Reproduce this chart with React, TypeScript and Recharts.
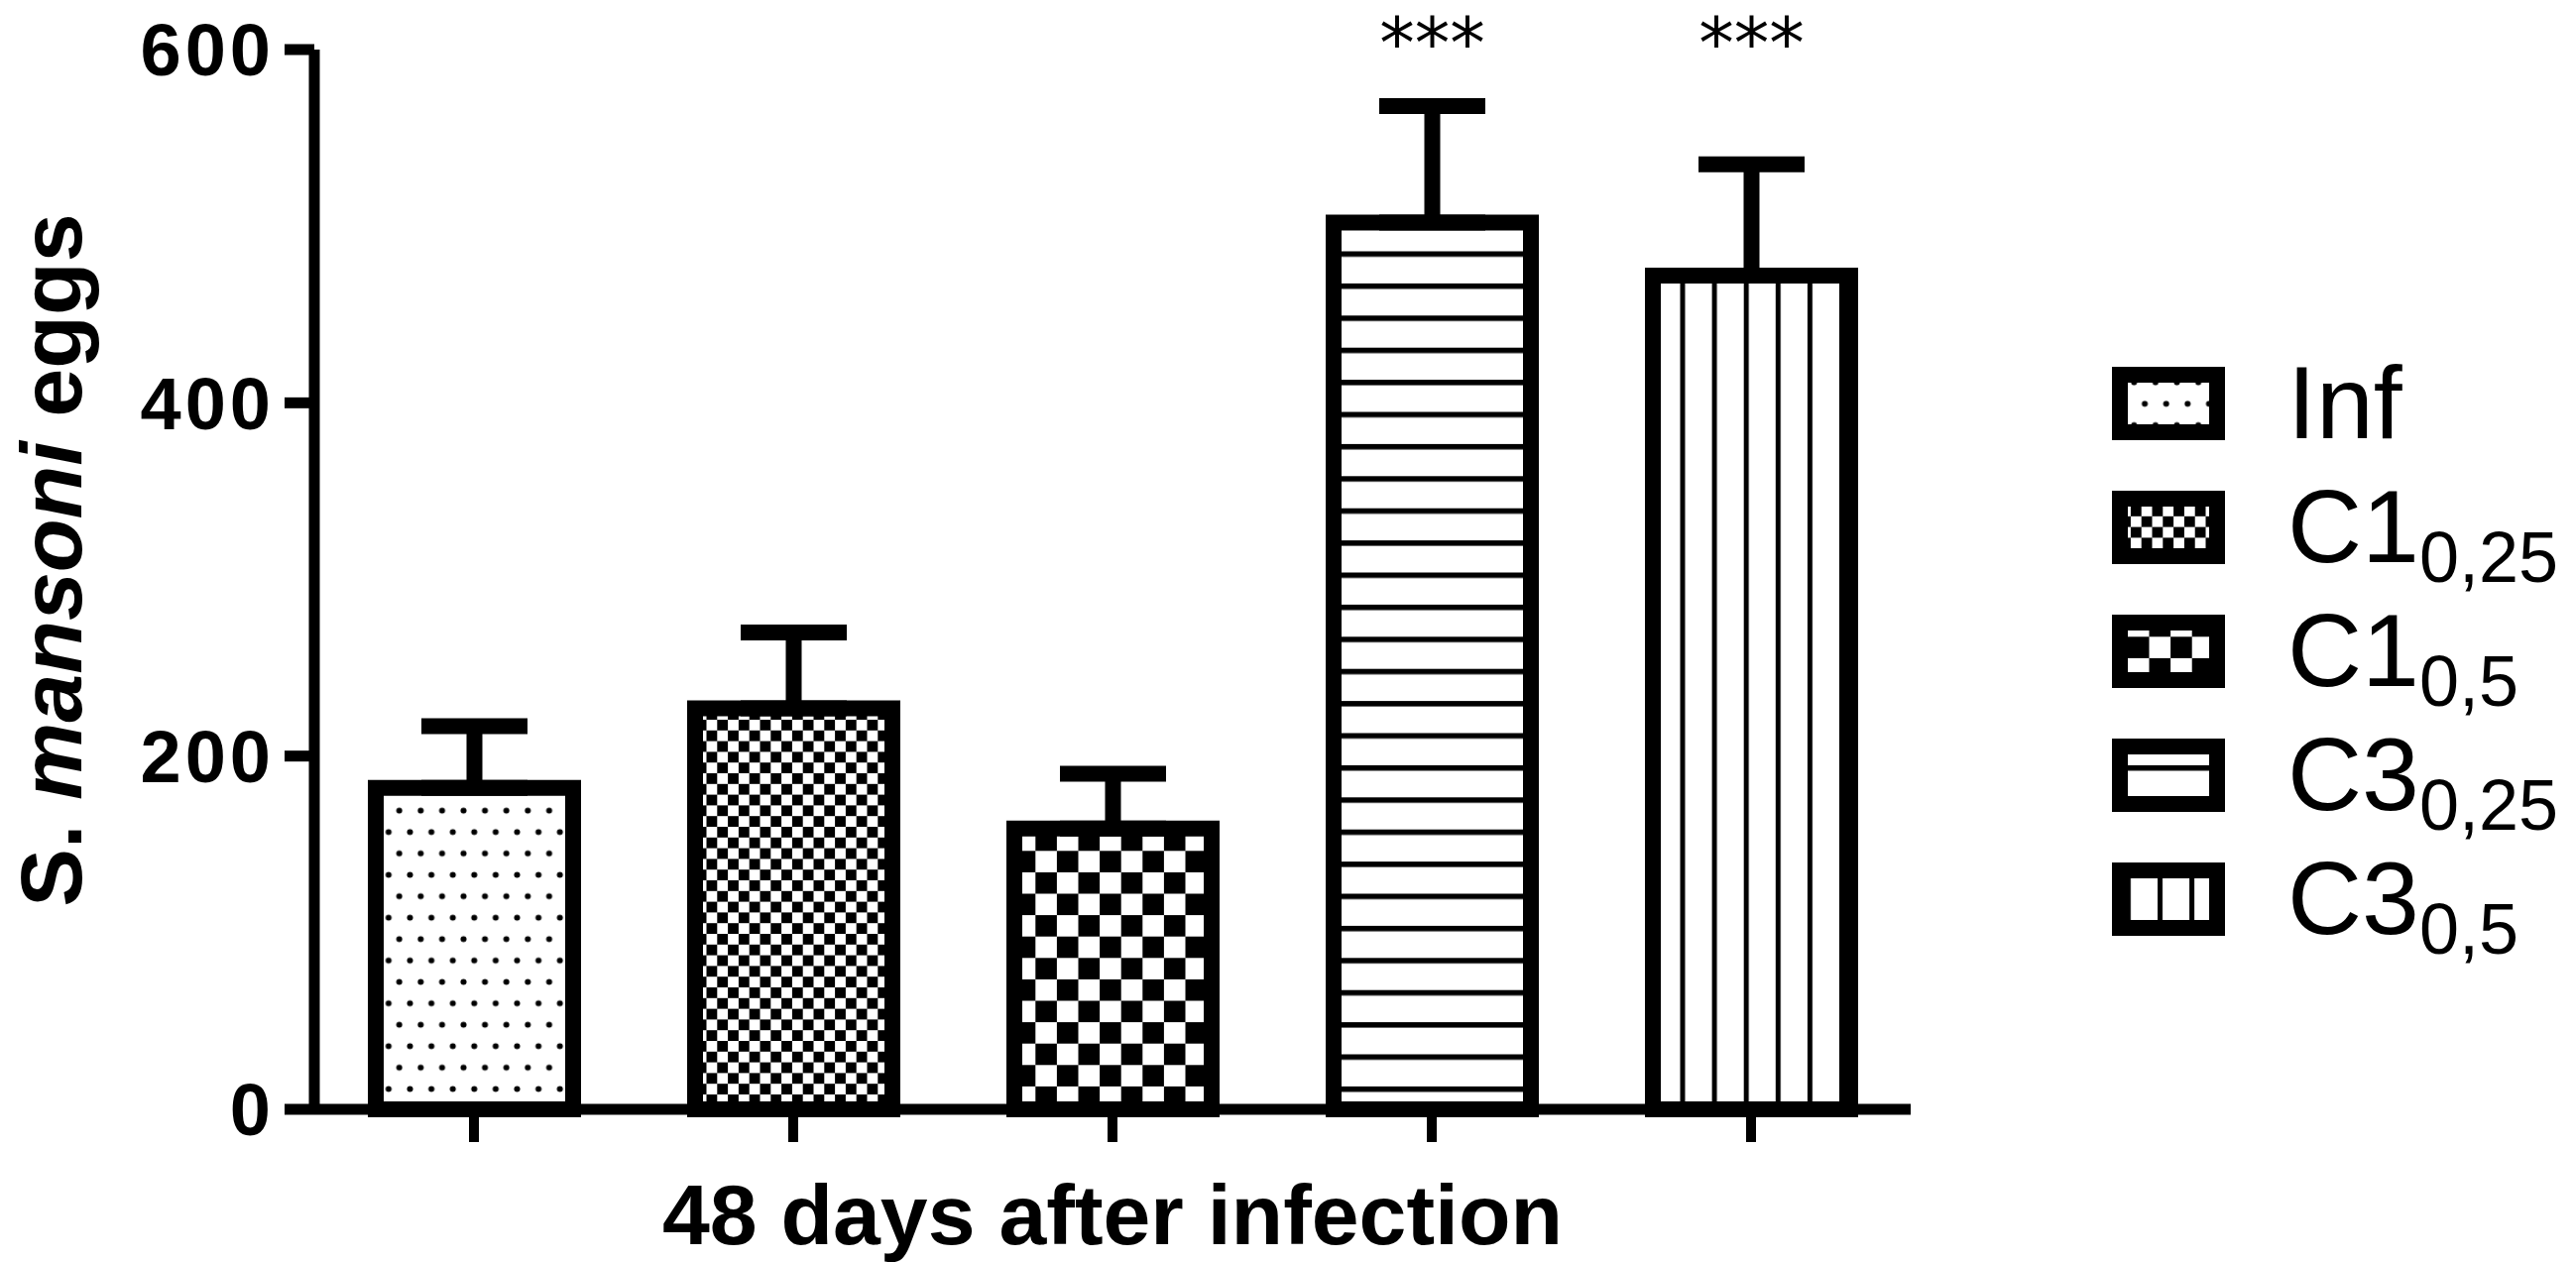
import { BarChart, Bar, XAxis, YAxis, ErrorBar, Cell, LabelList, Label } from "recharts";

const FONT = "'Liberation Sans', Arial, Helvetica, sans-serif";

// groups as written in the legend: base name + subscript (dose)
const groupNames = ["Inf", "C1", "C1", "C3", "C3"];
const groupSubs = ["", "0,25", "0,5", "0,25", "0,5"];

// S. mansoni eggs: mean and upper error bar
const eggMeans = [182, 227, 159, 502, 472];
const eggErrors = [35, 43, 31, 66, 63];
const significance = ["", "", "", "***", "***"];

const yTicks = [0, 200, 400, 600];

// one hatch pattern per group (GraphPad style fills)
const patternIds = ["pat-dots", "pat-check-fine", "pat-check-large", "pat-hlines", "pat-vlines"];

const chartData = groupNames.map((name, i) => ({
  name: name + groupSubs[i],
  eggs: eggMeans[i],
  err: [0, eggErrors[i]],
  sig: significance[i],
}));

// x ticks carry no text, only the tick marks
function NoTickText() {
  return <g />;
}

function StarsLabel(props: any) {
  const { x, width, value } = props;
  if (!value) return null;
  return (
    <text
      x={Number(x) + Number(width) / 2}
      y={68}
      textAnchor="middle"
      fontFamily="'DejaVu Sans', sans-serif"
      fontSize={71}
      fill="#000"
    >
      {value}
    </text>
  );
}

function XTitle(props: any) {
  const vb = props.viewBox || { x: 317, width: 1610 };
  return (
    <text x={vb.x + vb.width / 2} y={1255} textAnchor="middle" fontFamily={FONT} fontSize={86} fontWeight={700} fill="#000">
      48 days after infection
    </text>
  );
}

function YTitle() {
  return (
    <text
      x={82}
      y={565}
      transform="rotate(-90, 82, 565)"
      textAnchor="middle"
      fontFamily={FONT}
      fontSize={88}
      fontWeight={700}
      fill="#000"
    >
      {"S. "}
      <tspan fontStyle="italic">mansoni</tspan>
      {" eggs"}
    </text>
  );
}

function Patterns() {
  return (
    <defs>
      <pattern id="pat-dots" patternUnits="userSpaceOnUse" width={21.6} height={43.2} x={397.3} y={812.3}>
        <rect width={21.6} height={43.2} fill="#fff" />
        <circle cx={5.4} cy={5.4} r={3} fill="#000" />
        <circle cx={16.2} cy={27} r={3} fill="#000" />
      </pattern>
      <pattern id="pat-check-fine" patternUnits="userSpaceOnUse" width={21.6} height={21.6} x={723.3} y={726}>
        <rect width={21.6} height={21.6} fill="#fff" />
        <rect width={10.8} height={10.8} fill="#000" />
        <rect x={10.8} y={10.8} width={10.8} height={10.8} fill="#000" />
      </pattern>
      <pattern id="pat-check-large" patternUnits="userSpaceOnUse" width={43.2} height={43.2} x={1044.3} y={836.7}>
        <rect width={43.2} height={43.2} fill="#fff" />
        <rect width={21.6} height={21.6} fill="#000" />
        <rect x={21.6} y={21.6} width={21.6} height={21.6} fill="#000" />
      </pattern>
      <pattern id="pat-hlines" patternUnits="userSpaceOnUse" width={20} height={32.4} x={0} y={253.5}>
        <rect width={20} height={32.4} fill="#fff" />
        <rect width={20} height={5.5} fill="#000" />
      </pattern>
      <pattern id="pat-vlines" patternUnits="userSpaceOnUse" width={32.1} height={20} x={1694.5} y={0}>
        <rect width={32.1} height={20} fill="#fff" />
        <rect width={5} height={20} fill="#000" />
      </pattern>
    </defs>
  );
}

function PatternLegend() {
  return (
    <g>
      {groupNames.map((name, i) => {
        const top = 370 + i * 125;
        return (
          <g key={i}>
            <rect
              x={2138}
              y={top + 8}
              width={98}
              height={58}
              fill={`url(#${patternIds[i]})`}
              stroke="#000"
              strokeWidth={16}
            />
            <text x={2307} y={top + 72} fontFamily={FONT} fontSize={104} fill="#000">
              {name}
              {groupSubs[i] && (
                <tspan fontSize={72} dy={20}>
                  {groupSubs[i]}
                </tspan>
              )}
            </text>
          </g>
        );
      })}
    </g>
  );
}

export default function App() {
  return (
    <div style={{ position: "absolute", left: 0, top: 0, width: 2598, height: 1273, background: "#fff" }}>
      <BarChart
        width={2598}
        height={1273}
        data={chartData}
        margin={{ top: 50, right: 671, bottom: 0, left: 0 }}
        barSize={199}
      >
        <XAxis
          dataKey="name"
          tick={NoTickText}
          tickSize={33}
          height={154}
          interval={0}
          axisLine={{ stroke: "#000", strokeWidth: 11 }}
          tickLine={{ stroke: "#000", strokeWidth: 10 }}
        >
          <Label content={XTitle} />
        </XAxis>
        <YAxis
          type="number"
          domain={[0, 600]}
          ticks={yTicks}
          width={317}
          tickSize={30}
          tickMargin={10}
          axisLine={{ stroke: "#000", strokeWidth: 11 }}
          tickLine={{ stroke: "#000", strokeWidth: 11 }}
          tick={{ fill: "#000", fontSize: 74, fontWeight: 700, fontFamily: FONT, letterSpacing: 4 }}
        >
          <Label content={YTitle} />
        </YAxis>
        <Bar dataKey="eggs" isAnimationActive={false} stroke="#000" strokeWidth={16}>
          {chartData.map((d, i) => (
            <Cell key={d.name} fill={`url(#${patternIds[i]})`} />
          ))}
          <ErrorBar dataKey="err" width={53.5} stroke="#000" strokeWidth={16} isAnimationActive={false} />
          <LabelList dataKey="sig" content={StarsLabel} />
        </Bar>
      </BarChart>
      <svg style={{ position: "absolute", left: 0, top: 0 }} width={2598} height={1273}>
        <Patterns />
        <PatternLegend />
      </svg>
    </div>
  );
}
